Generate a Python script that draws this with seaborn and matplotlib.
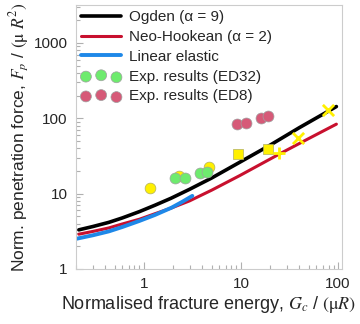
import pandas as pd
import seaborn as sb
import matplotlib.pyplot as plt
from matplotlib.ticker import NullFormatter

# model curves
ogden_x = [0.214, 0.3, 0.436, 0.6, 0.903, 1.3, 1.9, 2.96, 5.0, 9.7, 20.0, 40.0, 96.3]
ogden_y = [3.30, 3.66, 4.15, 4.75, 5.77, 7.0, 8.65, 11.4, 16.1, 26.0, 44.0, 75.0, 143.0]
neo_x = [0.214, 0.3, 0.436, 0.6, 0.903, 1.3, 1.9, 2.96, 5.0, 9.7, 25.0, 50.0, 96.3]
neo_y = [2.89, 3.15, 3.5, 3.95, 4.57, 5.4, 6.4, 8.0, 11.1, 17.3, 33.6, 53.8, 83.5]
lin_x = [0.198, 0.3, 0.436, 0.6, 0.903, 1.3, 1.93, 2.5, 3.16]
lin_y = [2.50, 2.80, 3.15, 3.6, 4.34, 5.2, 6.5, 7.8, 9.32]

# experiments
ed32_x = [2.12, 2.67, 3.81, 4.46]
ed32_y = [16.3, 16.2, 18.7, 19.4]
ed8_x = [9.1, 11.4, 16.2, 19.0]
ed8_y = [83.5, 86.0, 102.0, 108.0]

# other data (yellow, not in legend)
circ_x = [1.17, 2.33, 4.68]
circ_y = [11.8, 17.2, 22.8]
sq_x = [9.25, 18.9]
sq_y = [33.2, 39.0]
plus_x = [24.5]
plus_y = [34.4]
cross_x = [38.7, 79.6]
cross_y = [54.1, 128.0]

x_ticks = [1, 10, 100]
x_ticklabels = ['1', '10', '100']
y_ticks = [1, 10, 100, 1000]
y_ticklabels = ['1', '10', '100', '1000']

sb.set_style('white')
plt.rcParams['font.family'] = ['Liberation Sans', 'DejaVu Sans']
plt.rcParams['mathtext.fontset'] = 'stix'

fig, ax = plt.subplots(figsize=(3.6, 3.24), dpi=100)
fig.subplots_adjust(left=0.211, right=0.95, bottom=0.170, top=0.985)

sb.lineplot(x=ogden_x, y=ogden_y, color='black', lw=2.6, label='Ogden (α = 9)', ax=ax, sort=False)
sb.lineplot(x=neo_x, y=neo_y, color='#c8102e', lw=2.2, label='Neo-Hookean (α = 2)', ax=ax, sort=False)
sb.lineplot(x=lin_x, y=lin_y, color='#1e88e8', lw=2.8, label='Linear elastic', ax=ax, sort=False)

yellow = '#fff000'
sb.scatterplot(x=circ_x, y=circ_y, marker='o', s=60, color=yellow, edgecolor='#b0b060', linewidth=0.5, zorder=3, ax=ax)
sb.scatterplot(x=sq_x, y=sq_y, marker='s', s=60, color=yellow, edgecolor='#b0b060', linewidth=0.5, zorder=3, ax=ax)
sb.scatterplot(x=plus_x, y=plus_y, marker='+', s=80, color=yellow, linewidth=2, zorder=3, ax=ax)
sb.scatterplot(x=cross_x, y=cross_y, marker='x', s=65, color=yellow, linewidth=2, zorder=3, ax=ax)

sb.scatterplot(x=ed32_x, y=ed32_y, marker='o', s=62, color='#6eeb6e', edgecolor='#a0a0a0', linewidth=0.5,
               zorder=4, label='Exp. results (ED32)', ax=ax)
sb.scatterplot(x=ed8_x, y=ed8_y, marker='o', s=62, color='#d65a78', edgecolor='#a0a0a0', linewidth=0.5,
               zorder=4, label='Exp. results (ED8)', ax=ax)

ax.set_xscale('log')
ax.set_yscale('log')
ax.set_xlim(0.2, 110)
ax.set_ylim(1, 3200)
ax.set_xticks(x_ticks)
ax.set_xticklabels(x_ticklabels)
ax.set_yticks(y_ticks)
ax.set_yticklabels(y_ticklabels)
ax.xaxis.set_minor_formatter(NullFormatter())
ax.yaxis.set_minor_formatter(NullFormatter())
ax.tick_params(which='both', direction='in', color='#b0b0b0', labelsize=11, bottom=True, left=True, pad=6)
ax.tick_params(which='major', length=5, width=0.8)
ax.tick_params(which='minor', length=3, width=0.8)
for sp in ax.spines.values():
    sp.set_color('#cccccc')
    sp.set_linewidth(0.8)

ax.set_xlabel(r'Normalised fracture energy, $G_c$ / $(\mathrm{\mu}R)$', fontsize=13, labelpad=2)
ax.set_ylabel(r'Norm. penetration force, $F_p$ / $(\mathrm{\mu}\ R^2)$', fontsize=12.5, labelpad=2)

ax.legend(loc='upper left', frameon=False, fontsize=11, handlelength=2.6, handletextpad=0.5,
          labelspacing=0.38, scatterpoints=3, borderaxespad=0.15, borderpad=0.2)

plt.savefig('out.png', dpi=100)
